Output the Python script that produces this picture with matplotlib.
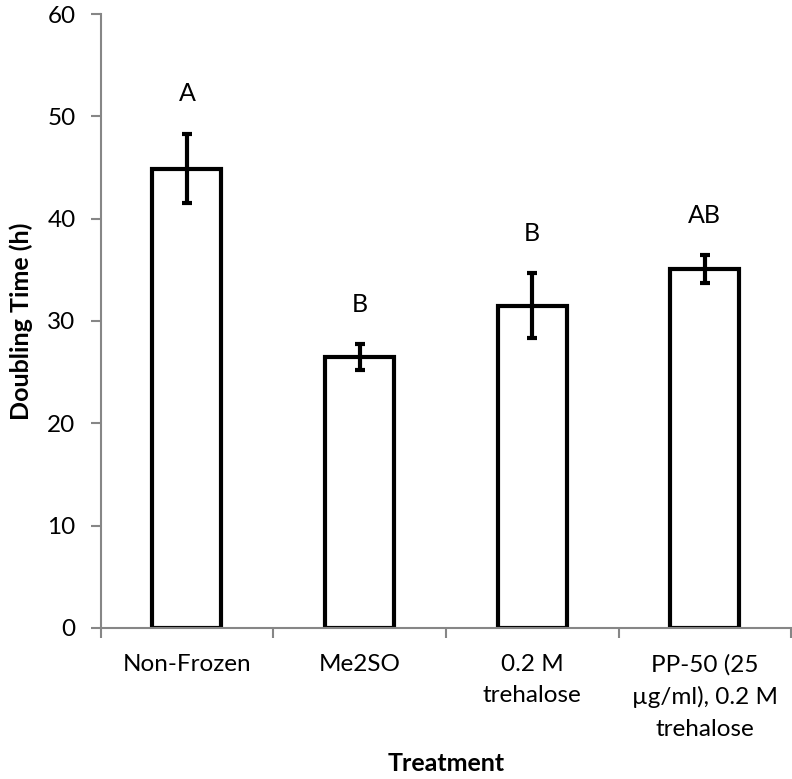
import matplotlib
matplotlib.use('Agg')
import matplotlib.pyplot as plt
import numpy as np

# data
treatments = ['Non-Frozen', 'Me2SO', '0.2 M\ntrehalose', 'PP-50 (25\nµg/ml), 0.2 M\ntrehalose']
doubling_time = [44.9, 26.5, 31.5, 35.1]
errors = [3.4, 1.25, 3.15, 1.35]
letters = ['A', 'B', 'B', 'AB']

plt.rcParams['font.family'] = ['Lato', 'DejaVu Sans']
axis_grey = '#868686'

fig = plt.figure(figsize=(7.92, 7.79), dpi=100)
ax = fig.add_axes([0.127, 0.194, 0.872, 0.788])

x = np.arange(len(treatments))
ax.bar(x, doubling_time, width=0.4, color='white', edgecolor='black', linewidth=3)
ax.errorbar(x, doubling_time, yerr=errors, fmt='none', ecolor='black',
            elinewidth=3, capsize=3.6, capthick=3)

for xi, val, err, lab in zip(x, doubling_time, errors, letters):
    ax.text(xi, val + err + 3.9, lab, ha='center', va='center', fontsize=18)

ax.set_xlim(-0.5, len(treatments) - 0.5)
ax.set_ylim(0, 60)
ax.set_yticks(range(0, 61, 10))

ax.set_xticks(x)
ax.set_xticklabels(treatments, fontsize=17.5, linespacing=1.62, va='top')
ax.set_xticks(np.arange(-0.5, len(treatments)), minor=True)
ax.tick_params(axis='x', which='major', length=0, pad=18.5)
ax.tick_params(axis='x', which='minor', length=7, width=1.5, color=axis_grey, direction='out')
ax.tick_params(axis='y', labelsize=17.5, length=7, width=1.5, color=axis_grey, pad=11)

for side in ['top', 'right']:
    ax.spines[side].set_visible(False)
for side in ['left', 'bottom']:
    ax.spines[side].set_color(axis_grey)
    ax.spines[side].set_linewidth(1.5)

ax.set_ylabel('Doubling Time (h)', fontsize=18, fontweight='bold', labelpad=10)
ax.set_xlabel('Treatment', fontsize=18, fontweight='bold', labelpad=9)

fig.savefig('out.png', dpi=100)
